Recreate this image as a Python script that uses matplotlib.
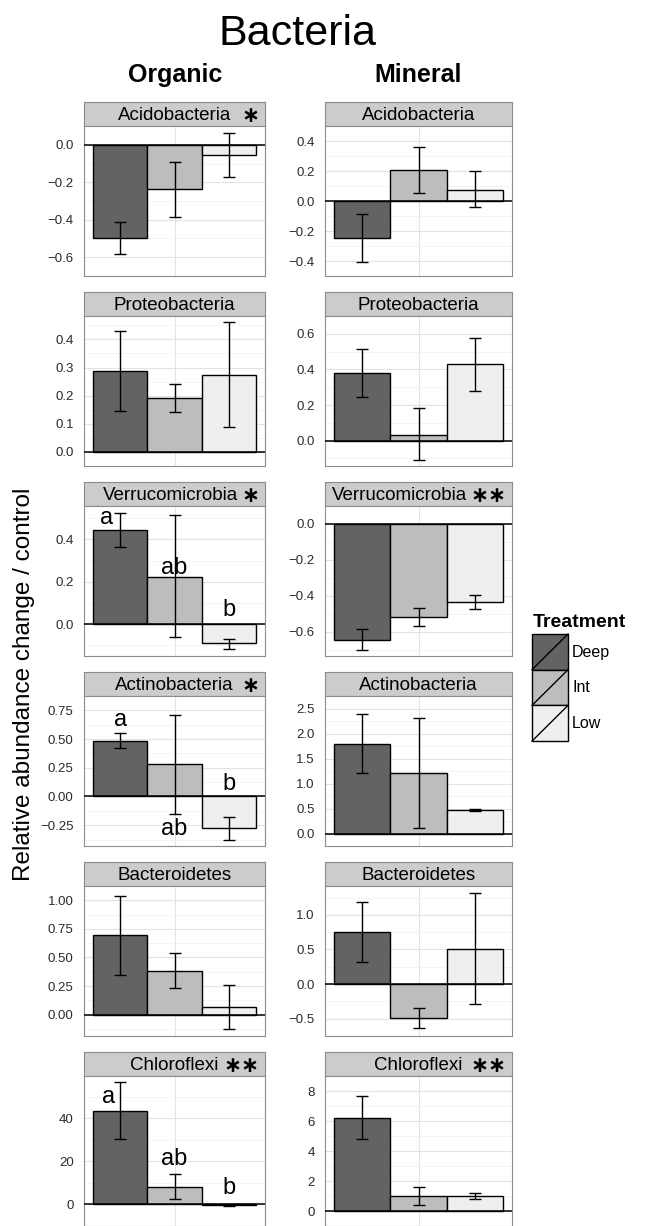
#!/usr/bin/env python3

import matplotlib
matplotlib.use('Agg')
import matplotlib.pyplot as plt
from matplotlib.patches import Rectangle
from matplotlib.lines import Line2D

plt.rcParams['font.family'] = ['Liberation Sans', 'DejaVu Sans']

# data
treatments = ['Deep', 'Int', 'Low']
bar_colors = ['#636363', '#bdbdbd', '#efefef']
phyla = ['Acidobacteria', 'Proteobacteria', 'Verrucomicrobia',
         'Actinobacteria', 'Bacteroidetes', 'Chloroflexi']

organic_values = [[-0.498, -0.238, -0.055],
                  [0.286, 0.192, 0.274],
                  [0.443, 0.223, -0.089],
                  [0.487, 0.281, -0.273],
                  [0.693, 0.385, 0.065],
                  [43.3, 8.2, -0.4]]
organic_err_low = [[-0.582, -0.385, -0.173],
                   [0.144, 0.142, 0.090],
                   [0.362, -0.060, -0.118],
                   [0.418, -0.151, -0.377],
                   [0.343, 0.229, -0.129],
                   [30.5, 2.6, -0.8]]
organic_err_high = [[-0.411, -0.090, 0.063],
                    [0.430, 0.243, 0.460],
                    [0.525, 0.513, -0.071],
                    [0.553, 0.712, -0.180],
                    [1.037, 0.543, 0.263],
                    [56.8, 14.2, -0.1]]
organic_stars = ['\u2217', '', '\u2217', '\u2217', '', '\u2217\u2217']
organic_ticks = [[-0.6, -0.4, -0.2, 0.0],
                 [0.0, 0.1, 0.2, 0.3, 0.4],
                 [0.0, 0.2, 0.4],
                 [-0.25, 0.0, 0.25, 0.5, 0.75],
                 [0.0, 0.25, 0.5, 0.75, 1.0],
                 [0, 20, 40]]

mineral_values = [[-0.249, 0.208, 0.076],
                  [0.382, 0.034, 0.428],
                  [-0.645, -0.517, -0.435],
                  [1.80, 1.21, 0.47],
                  [0.757, -0.495, 0.514],
                  [6.2, 0.99, 1.03]]
mineral_err_low = [[-0.408, 0.054, -0.043],
                   [0.246, -0.108, 0.280],
                   [-0.699, -0.568, -0.474],
                   [1.21, 0.12, 0.45],
                   [0.324, -0.640, -0.286],
                   [4.77, 0.39, 0.77]]
mineral_err_high = [[-0.086, 0.362, 0.200],
                    [0.516, 0.182, 0.575],
                    [-0.583, -0.469, -0.397],
                    [2.39, 2.31, 0.50],
                    [1.180, -0.348, 1.319],
                    [7.68, 1.59, 1.23]]
mineral_stars = ['', '', '\u2217\u2217', '', '', '\u2217\u2217']
mineral_ticks = [[-0.4, -0.2, 0.0, 0.2, 0.4],
                 [0.0, 0.2, 0.4, 0.6],
                 [-0.6, -0.4, -0.2, 0.0],
                 [0.0, 0.5, 1.0, 1.5, 2.0, 2.5],
                 [-0.5, 0.0, 0.5, 1.0],
                 [0, 2, 4, 6, 8]]

# significance letters (organic column only): row -> (letters, x, y)
letter_rows = {2: (['a', 'ab', 'b'], [-0.378, 0.0, 0.3], [0.474, 0.235, 0.039]),
               3: (['a', 'ab', 'b'], [-0.3, 0.0, 0.3], [0.615, -0.337, 0.053]),
               5: (['a', 'ab', 'b'], [-0.367, 0.0, 0.3], [47.3, 18.4, 4.7])}

W, H = 646, 1226
fig = plt.figure(figsize=(W / 100, H / 100), dpi=100)


def box(x0, y0, w, h):
  return [x0 / W, 1 - (y0 + h) / H, w / W, h / H]


def draw_panel(col_x, col_w, row, name, stars, values, lo, hi, ticks, letters=None):
  top = 102 + 190 * row
  strip = fig.add_axes(box(col_x, top, col_w, 24))
  strip.set_facecolor('#cccccc')
  strip.set_xticks([])
  strip.set_yticks([])
  for s in strip.spines.values():
    s.set_color('#8c8c8c')
    s.set_linewidth(0.8)
  ax = fig.add_axes(box(col_x, top + 24, col_w, 150))
  pos = [-0.3, 0.0, 0.3]
  ax.bar(pos, values, width=0.3, color=bar_colors, edgecolor='black',
         linewidth=1.0, zorder=3)
  ax.errorbar(pos, values,
              yerr=[[v - l for v, l in zip(values, lo)], [h - v for v, h in zip(values, hi)]],
              fmt='none', ecolor='black', elinewidth=1.0, capsize=4.5, capthick=1.0, zorder=4)
  ax.axhline(0, color='black', linewidth=1.1, zorder=3.5)
  ymin = min(0, min(lo))
  ymax = max(0, max(hi))
  pad = (ymax - ymin) * 0.05
  ax.set_ylim(ymin - pad, ymax + pad)
  ax.set_xlim(-0.5, 0.5)
  ax.set_yticks(ticks)
  minor = [(a + b) / 2 for a, b in zip(ticks[:-1], ticks[1:])]
  step = ticks[1] - ticks[0]
  minor = [ticks[0] - step / 2] + minor + [ticks[-1] + step / 2]
  ax.set_yticks(minor, minor=True)
  ax.set_xticks([0])
  ax.set_xticklabels([])
  ax.grid(True, which='major', color='#e3e3e3', linewidth=0.8, zorder=0)
  ax.grid(True, which='minor', axis='y', color='#f3f3f3', linewidth=0.6, zorder=0)
  ax.tick_params(axis='both', which='both', length=0)
  ax.tick_params(axis='y', pad=7.5, labelsize=9.5, labelcolor='#2b2b2b')
  for s in ax.spines.values():
    s.set_color('#8c8c8c')
    s.set_linewidth(0.8)
  ax.set_axisbelow(True)
  if letters:
    for t, lx, ly in zip(*letters):
      ax.text(lx, ly, t, ha='center', va='baseline', fontsize=17, zorder=5)

  # strip label: name centred, stars right-aligned
  name_t = strip.text(0.5, 0.45, name, ha='center', va='center', fontsize=13.5,
                      transform=strip.transAxes)
  if stars:
    star_t = strip.text(1 - 6 / col_w, 0.42, stars, ha='right', va='center',
                        fontsize=15.5, fontweight='bold', family='DejaVu Sans',
                        transform=strip.transAxes)
    r = fig.canvas.get_renderer()
    nb = name_t.get_window_extent(r)
    sb = star_t.get_window_extent(r)
    if nb.x1 > sb.x0 - 3:
      sx = strip.get_window_extent(r)
      name_t.set_ha('right')
      name_t.set_x(((sb.x0 - 3) - sx.x0) / sx.width)


for i, name in enumerate(phyla):
  draw_panel(84, 181, i, name, organic_stars[i], organic_values[i],
             organic_err_low[i], organic_err_high[i], organic_ticks[i],
             letter_rows.get(i))
  draw_panel(325, 187, i, name, mineral_stars[i], mineral_values[i],
             mineral_err_low[i], mineral_err_high[i], mineral_ticks[i])

fig.text(297 / W, 1 - 45 / H, 'Bacteria', ha='center', va='baseline', fontsize=31)
fig.text(175 / W, 1 - 82 / H, 'Organic', ha='center', va='baseline', fontsize=18, fontweight='bold')
fig.text(418 / W, 1 - 82 / H, 'Mineral', ha='center', va='baseline', fontsize=18, fontweight='bold')
fig.text(24 / W, 1 - 684 / H, 'Relative abundance change / control', rotation=90,
         ha='center', va='center', fontsize=17.5)

# legend
lax = fig.add_axes([0, 0, 1, 1], facecolor='none')
lax.set_xlim(0, W)
lax.set_ylim(H, 0)
lax.axis('off')
lax.text(533, 627, 'Treatment', ha='left', va='baseline', fontsize=14, fontweight='bold')
for k, (t, c) in enumerate(zip(treatments, bar_colors)):
  y0 = 634 + 35.7 * k
  lax.add_patch(Rectangle((532, y0), 36, 35.7, facecolor=c, edgecolor='black', linewidth=1.0))
  lax.add_line(Line2D([532, 568], [y0 + 35.7, y0], color='black', linewidth=1.0))
  lax.text(572, y0 + 18, t, ha='left', va='center', fontsize=11.5)

fig.savefig('out.png', dpi=100)
